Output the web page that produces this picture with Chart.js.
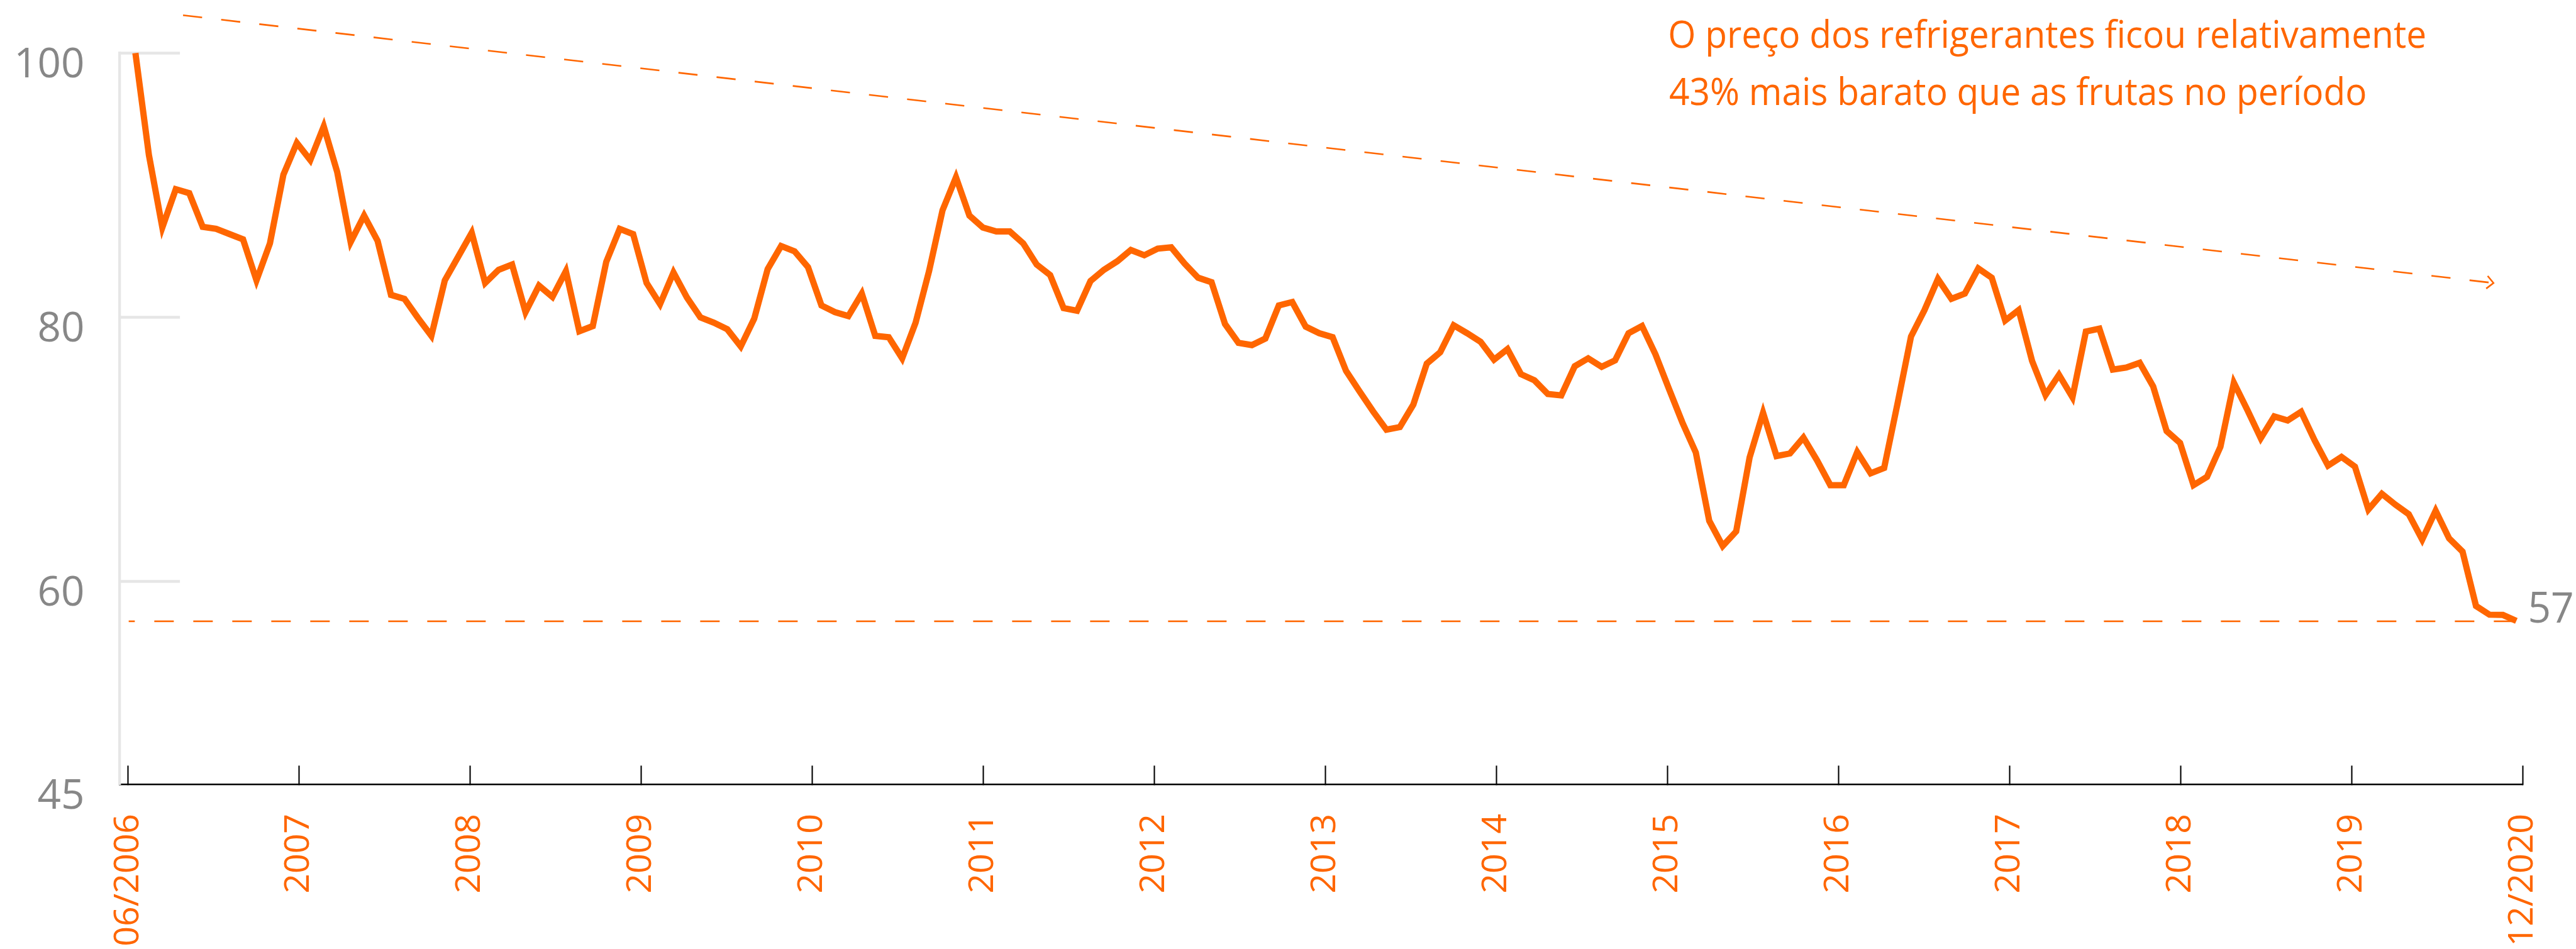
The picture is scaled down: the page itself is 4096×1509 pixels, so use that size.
<!DOCTYPE html>
<html>
<head>
<meta charset="utf-8">
<script src="https://cdn.jsdelivr.net/npm/chart.js@4.4.1/dist/chart.umd.min.js"></script>
<style>
html,body{margin:0;padding:0;background:#ffffff;}
#wrap{position:relative;width:4096px;height:1509px;overflow:hidden;}
canvas{display:block;}
</style>
</head>
<body>
<div id="wrap"><canvas id="c" width="4096" height="1509"></canvas></div>
<script>
// ---------- DATA ----------
// monthly index (06/2006 = 0 ... last month = 177), relative price index
const values = [
100, 92.3, 86.8, 89.7, 89.4, 86.85, 86.7, 86.3, 85.9, 82.8,
85.6, 90.8, 93.2, 91.9, 94.45, 91.0, 85.7, 87.7, 85.8, 81.7,
81.4, 79.96, 78.6, 82.8, 84.6, 86.4, 82.6, 83.6, 84.0, 80.4,
82.4, 81.55, 83.5, 78.95, 79.34, 84.2, 86.7, 86.3, 82.6, 81.0,
83.4, 81.5, 80.0, 79.6, 79.1, 77.8, 79.9, 83.65, 85.4, 85.0,
83.8, 80.9, 80.4, 80.1, 81.8, 78.6, 78.5, 76.9, 79.6, 83.5,
88.1, 90.6, 87.7, 86.8, 86.5, 86.5, 85.6, 84.0, 83.2, 80.7,
80.5, 82.75, 83.6, 84.25, 85.1, 84.7, 85.2, 85.3, 84.07, 83.0,
82.66, 79.5, 78.07, 77.9, 78.4, 80.9, 81.16, 79.3, 78.8, 78.5,
75.95, 74.4, 72.9, 71.5, 71.7, 73.4, 76.5, 77.36, 79.4, 78.8,
78.15, 76.8, 77.6, 75.7, 75.24, 74.2, 74.1, 76.3, 76.9, 76.26,
76.75, 78.8, 79.35, 77.2, 74.6, 72.05, 69.77, 64.6, 62.7, 63.8,
69.4, 72.78, 69.5, 69.7, 70.9, 69.2, 67.3, 67.3, 69.8, 68.2,
68.6, 73.5, 78.55, 80.55, 82.9, 81.4, 81.8, 83.7, 83.0, 79.76,
80.55, 76.7, 74.13, 75.65, 73.95, 78.93, 79.15, 76.05, 76.2, 76.56,
74.77, 71.4, 70.5, 67.3, 67.93, 70.2, 75.05, 73.0, 70.85, 72.5,
72.2, 72.85, 70.7, 68.78, 69.44, 68.7, 65.46, 66.65, 65.83, 65.1,
63.18, 65.37, 63.27, 62.27, 58.16, 57.5, 57.48, 57.03
];
const xTickLabels = ["06/2006","2007","2008","2009","2010","2011","2012","2013","2014","2015","2016","2017","2018","2019","12/2020"];
const yTickValues = [60, 80, 100];
const yBottomLabel = "45";
const refLevel = [57, 57];
const refX = [-0.5, 177];
const refLabel = "57";
const trendX = [3.54, 175.3];
const trendY = [102.86, 82.6];
const noteLines = ["O preço dos refrigerantes ficou relativamente", "43% mais barato que as frutas no período"];

// ---------- STYLE ----------
const ORANGE = '#ff6600';
const GRAY = '#878787';
const LIGHT = '#e6e6e6';
const Y_MIN = 44.65, Y_MAX = 100;

Chart.defaults.font.family = "'Open Sans', sans-serif";

const overlay = {
  id: 'overlay',
  afterDatasetsDraw(chart) {
    const ctx = chart.ctx;
    const xs = chart.scales.xd, ys = chart.scales.y;
    // arrow head on trend line
    const x1 = xs.getPixelForValue(trendX[0]), y1 = ys.getPixelForValue(trendY[0]);
    const x2 = xs.getPixelForValue(trendX[1]), y2 = ys.getPixelForValue(trendY[1]);
    const a = Math.atan2(y2 - y1, x2 - x1);
    const L = 14.6, h = 44 * Math.PI / 180;
    ctx.save();
    ctx.strokeStyle = ORANGE;
    ctx.lineWidth = 2.6;
    ctx.setLineDash([]);
    ctx.lineJoin = 'miter';
    ctx.beginPath();
    ctx.moveTo(x2 - L * Math.cos(a - h), y2 - L * Math.sin(a - h));
    ctx.lineTo(x2, y2);
    ctx.lineTo(x2 - L * Math.cos(a + h), y2 - L * Math.sin(a + h));
    ctx.stroke();
    ctx.restore();

    // end label "57"
    const lx = xs.getPixelForValue(values.length - 1);
    const ly = ys.getPixelForValue(refLevel[0]);
    ctx.save();
    ctx.fillStyle = GRAY;
    ctx.font = "64px 'Open Sans'";
    ctx.textAlign = 'left';
    ctx.textBaseline = 'alphabetic';
    ctx.translate(lx + 22.3, ly + 1.9);
    ctx.scale(1, 1.06);
    const m = ctx.measureText(refLabel);
    ctx.fillText(refLabel, m.actualBoundingBoxLeft, 0);
    ctx.restore();
  },
  afterDraw(chart) {
    const ctx = chart.ctx;
    ctx.save();
    ctx.fillStyle = ORANGE;
    ctx.font = "61px 'Open Sans'";
    ctx.textAlign = 'left';
    ctx.textBaseline = 'alphabetic';
    const m0 = ctx.measureText(noteLines[0]);
    const ink = m0.actualBoundingBoxLeft + m0.actualBoundingBoxRight;
    const sx = 1201 / ink;
    const baselines = [75.7, 166.8];
    noteLines.forEach((line, k) => {
      ctx.save();
      ctx.translate(2655, baselines[k]);
      ctx.scale(sx, 1);
      const mm = ctx.measureText(line);
      ctx.fillText(line, mm.actualBoundingBoxLeft, 0);
      ctx.restore();
    });
    ctx.restore();
  }
};

function noPad(s) {
  s.paddingTop = 0; s.paddingBottom = 0; s.paddingLeft = 0; s.paddingRight = 0;
}

new Chart(document.getElementById('c'), {
  type: 'line',
  data: {
    datasets: [
      {
        label: 'preço relativo',
        data: values.map((v, i) => ({x: i, y: v})),
        xAxisID: 'xd', yAxisID: 'y',
        borderColor: ORANGE, borderWidth: 10,
        borderJoinStyle: 'miter', borderCapStyle: 'butt',
        pointRadius: 0, tension: 0, fill: false, clip: false
      },
      {
        label: 'nível final',
        data: refX.map((x, i) => ({x: x, y: refLevel[i]})),
        xAxisID: 'xd', yAxisID: 'y',
        borderColor: ORANGE, borderWidth: 2.6,
        borderDash: [31, 31], borderDashOffset: 21.3,
        pointRadius: 0, tension: 0, fill: false, clip: false
      },
      {
        label: 'tendência',
        data: trendX.map((x, i) => ({x: x, y: trendY[i]})),
        xAxisID: 'xd', yAxisID: 'y',
        borderColor: ORANGE, borderWidth: 2.6,
        borderDash: [30.5, 30.5], borderCapStyle: 'butt',
        pointRadius: 0, tension: 0, fill: false, clip: false
      }
    ]
  },
  options: {
    responsive: false,
    animation: false,
    devicePixelRatio: 1,
    layout: { padding: { top: 84.4, right: 85, bottom: 0, left: 0 } },
    plugins: { legend: { display: false }, tooltip: { enabled: false } },
    scales: {
      x: {
        type: 'linear', position: 'bottom',
        min: -0.05, max: xTickLabels.length - 1,
        afterBuildTicks: (s) => { s.ticks = xTickLabels.map((_, i) => ({ value: i })); },
        afterFit: (s) => { s.height = 261.6; noPad(s); },
        ticks: {
          autoSkip: false, minRotation: 90, maxRotation: 90,
          color: ORANGE, font: { size: 55.5 }, padding: 76.5,
          callback: (v) => xTickLabels[v]
        },
        grid: { drawOnChartArea: false, drawTicks: true, tickLength: -30, tickColor: '#000000', tickWidth: 2.1, color: '#000000' },
        border: { display: true, color: '#000000', width: 2.4 }
      },
      xd: { type: 'linear', display: false, min: -1.18, max: 177.46 },
      y: {
        type: 'linear', position: 'left', min: Y_MIN, max: Y_MAX,
        afterBuildTicks: (s) => { s.ticks = [{ value: Y_MIN }].concat(yTickValues.map(v => ({ value: v }))); },
        afterFit: (s) => { s.width = 190.1; noPad(s); },
        ticks: {
          color: GRAY, font: { size: 65.5 }, padding: 151.6, labelOffset: 19.6,
          callback: (v) => (v === Y_MIN ? yBottomLabel : String(v))
        },
        grid: {
          drawOnChartArea: false, drawTicks: true, tickLength: -96, tickWidth: 4.3,
          tickColor: (ctx) => (ctx.tick && ctx.tick.value === Y_MIN ? 'rgba(0,0,0,0)' : LIGHT),
          color: LIGHT
        },
        border: { display: true, color: LIGHT, width: 4.3 }
      }
    }
  },
  plugins: [overlay]
});
</script>
</body>
</html>
